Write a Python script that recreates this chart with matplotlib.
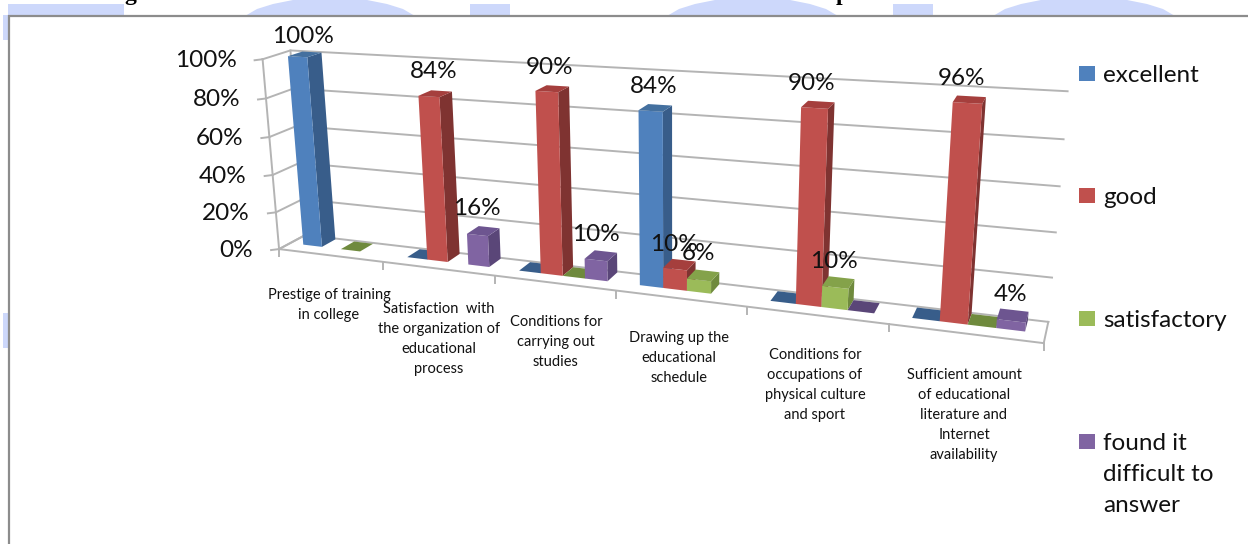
import numpy as np
import matplotlib
matplotlib.use("Agg")
import matplotlib.pyplot as plt
from matplotlib.patches import Polygon, Rectangle

plt.rcParams["font.family"] = ["Lato", "DejaVu Sans"]

categorias = [
    "Prestige of training\nin college",
    "Satisfaction  with\nthe organization of\neducational\nprocess",
    "Conditions for\ncarrying out\nstudies",
    "Drawing up the\neducational\nschedule",
    "Conditions for\noccupations of\nphysical culture\nand sport",
    "Sufficient amount\nof educational\nliterature and\nInternet\navailability",
]
series = ["excellent", "good", "satisfactory", "found it\ndifficult to\nanswer"]

# nan = sin barra, 0 = barra plana sin etiqueta
excellent = [100, 0, 0, 84, 0, 0]
good = [np.nan, 84, 90, 10, 90, 96]
satisfactory = [0, np.nan, 0, 6, 10, 0]
found_difficult = [np.nan, 16, 10, np.nan, 0, 4]
valores = [excellent, good, satisfactory, found_difficult]

y_ticks = [0, 20, 40, 60, 80, 100]

colores = ["#4f81bd", "#c0504d", "#9bbb59", "#8064a2"]
colores_lado = ["#385d8a", "#7f3331", "#6f8a3d", "#5a4678"]
colores_tope = ["#44709f", "#a53f3d", "#84a24a", "#6d5590"]

# calibracion de la caja 3D: (categoria, valor, profundidad) -> pixel
caja_3d = [(0, 100, 0), (0, 100, 1), (6, 100, 1), (6, 100, 0), (0, 0, 0), (0, 0, 1),
           (6, 0, 1), (6, 0, 0), (1, 0, 0), (2, 0, 0), (3, 0, 0), (4, 0, 0), (5, 0, 0)]
caja_px = [(260, 58), (293, 52), (1069, 92), (1062, 103), (281, 247), (302, 236),
           (1048, 318), (1043, 348), (385, 262), (495, 277), (616, 290), (745, 307), (891, 323)]

# desplazamiento de cada etiqueta respecto al tope de su barra (grupo, serie)
offset_etiquetas = {
    (0, 0): (-2, -18), (1, 1): (-2, -22), (1, 3): (-6, -23), (2, 1): (-3, -21),
    (2, 3): (-5, -21), (3, 0): (-2, -21), (3, 1): (-6, -20), (3, 2): (-5, -22),
    (4, 1): (-6, -21), (4, 2): (-4, -21), (5, 1): (-8, -21), (5, 3): (-2, -21),
}

pos_categorias = [(329, 288), (439, 302), (556, 315), (679, 331), (815, 348), (964, 368)]


def ajustar_camara():
    filas, lado = [], []
    for (x, v, z), (px, py) in zip(caja_3d, caja_px):
        filas.append([x, v, z, 1, 0, 0, 0, 0, -px * x, -px * v, -px * z])
        filas.append([0, 0, 0, 0, x, v, z, 1, -py * x, -py * v, -py * z])
        lado += [px, py]
    sol = np.linalg.lstsq(np.array(filas, float), np.array(lado, float), rcond=None)[0]
    return np.append(sol, 1).reshape(3, 4)


camara = ajustar_camara()


def proyectar(x, v, z):
    u = camara @ np.array([x, v, z, 1.0])
    return u[0] / u[2], u[1] / u[2]


fig = plt.figure(figsize=(12.48, 5.44), dpi=100)
ax = fig.add_axes([0, 0, 1, 1])
ax.set_xlim(0, 1248)
ax.set_ylim(544, 0)
ax.axis("off")

# manchas azules de la pagina detras del grafico
manchas = [(8, 124, 4), (245, 415, 0), (470, 510, 4), (667, 838, 0), (893, 933, 4), (993, 1175, 0)]
for x0, x1, tope in manchas:
    if tope == 0:
        ax.fill([x0, x0 + 12, x0 + 28, x0 + 48, x1 - 48, x1 - 28, x1 - 12, x1],
                [16, 9, 4, 0, 0, 4, 9, 16], color="#cdd8fb", lw=0, zorder=0)
    else:
        ax.add_patch(Rectangle((x0, tope), x1 - x0, 16 - tope, color="#cdd8fb", lw=0, zorder=0))
ax.add_patch(Rectangle((3, 15), 6, 25, color="#cdd8fb", lw=0, zorder=0))
ax.add_patch(Rectangle((3, 313), 6, 35, color="#cdd8fb", lw=0, zorder=0))

# restos del titulo cortado por arriba de la imagen
ax.text(130, 0, "g", family="Liberation Serif", fontweight="bold", fontsize=17,
        ha="center", va="baseline", color="black", clip_on=False)
ax.text(842, 0, "p", family="Liberation Serif", fontweight="bold", fontsize=17,
        ha="center", va="baseline", color="black", clip_on=False)

# borde del area del grafico
ax.plot([9, 9, 1248], [544, 16, 16], color="#8c8c8c", lw=1.6, zorder=1, solid_joinstyle="miter")

# paredes y piso
gris = "#b4b4b4"
for v in y_ticks:
    a, b, c = proyectar(0, v, 0), proyectar(0, v, 1), proyectar(6, v, 1)
    ax.plot([a[0], b[0], c[0]], [a[1], b[1], c[1]], color=gris, lw=1.4, zorder=2)
    ax.plot([a[0] - 8, a[0]], [a[1] + 1, a[1]], color=gris, lw=1.4, zorder=2)
    ax.text(a[0] - 26, a[1] + 1, f"{v}%", ha="right", va="center", fontsize=17.5, color="#111111", zorder=6)

for x_b, z_a, z_b in [(0, 0, 1), (6, 0, 1)]:
    a, b = proyectar(x_b, 0, z_a), proyectar(x_b, 0, z_b)
    ax.plot([a[0], b[0]], [a[1], b[1]], color=gris, lw=1.4, zorder=2)
a, b = proyectar(0, 0, 0), proyectar(0, 100, 0)
ax.plot([a[0], b[0]], [a[1], b[1]], color=gris, lw=1.4, zorder=2)
a, b = proyectar(0, 0, 1), proyectar(0, 100, 1)
ax.plot([a[0], b[0]], [a[1], b[1]], color=gris, lw=1.4, zorder=2)
a, b = proyectar(0, 0, 0), proyectar(6, 0, 0)
ax.plot([a[0], b[0]], [a[1], b[1]], color=gris, lw=1.4, zorder=2)
for i in range(7):
    a = proyectar(i, 0, 0)
    ax.plot([a[0], a[0]], [a[1], a[1] + 7], color=gris, lw=1.4, zorder=2)

# barras: la serie de la derecha tapa a la de la izquierda
ancho = 0.185
margen = 0.13
z0, z1 = 0.42, 0.95
orden = 3
for g in range(len(categorias)):
    for s in range(len(series)):
        v = valores[s][g]
        if np.isnan(v):
            continue
        x0 = g + margen + s * ancho
        x1 = x0 + ancho
        frente = [proyectar(x0, 0, z0), proyectar(x1, 0, z0), proyectar(x1, v, z0), proyectar(x0, v, z0)]
        lado = [proyectar(x1, 0, z0), proyectar(x1, 0, z1), proyectar(x1, v, z1), proyectar(x1, v, z0)]
        tope = [proyectar(x0, v, z0), proyectar(x1, v, z0), proyectar(x1, v, z1), proyectar(x0, v, z1)]
        if v > 0:
            ax.add_patch(Polygon(lado, closed=True, fc=colores_lado[s], ec="none", zorder=orden))
            ax.add_patch(Polygon(frente, closed=True, fc=colores[s], ec="none", zorder=orden))
        color_tope = colores_tope[s] if v > 0 else colores_lado[s]
        ax.add_patch(Polygon(tope, closed=True, fc=color_tope, ec="none", zorder=orden))
        orden += 0.01
        if v > 0:
            cx, cy = proyectar(x0 + ancho / 2, v, (z0 + z1) / 2)
            dx, dy = offset_etiquetas.get((g, s), (0, -21))
            ax.text(cx + dx, cy + dy, f"{v:.0f}%", ha="center", va="center", fontsize=17.5,
                    color="#111111", zorder=6)

# etiquetas de categoria
for nombre, (x, y) in zip(categorias, pos_categorias):
    ax.text(x, y, nombre, ha="center", va="top", fontsize=10.5, color="#111111",
            linespacing=1.55, zorder=6)

# leyenda
leyenda_y = [74, 196, 319, 442]
for nombre, color, y in zip(series, colores, leyenda_y):
    ax.add_patch(Rectangle((1079, y - 8), 16, 15, fc=color, ec="none", zorder=6))
    ax.text(1103, y - 9, nombre, ha="left", va="top", fontsize=17.5, color="#111111",
            linespacing=1.6, zorder=6)

fig.savefig("out.png", dpi=100)
